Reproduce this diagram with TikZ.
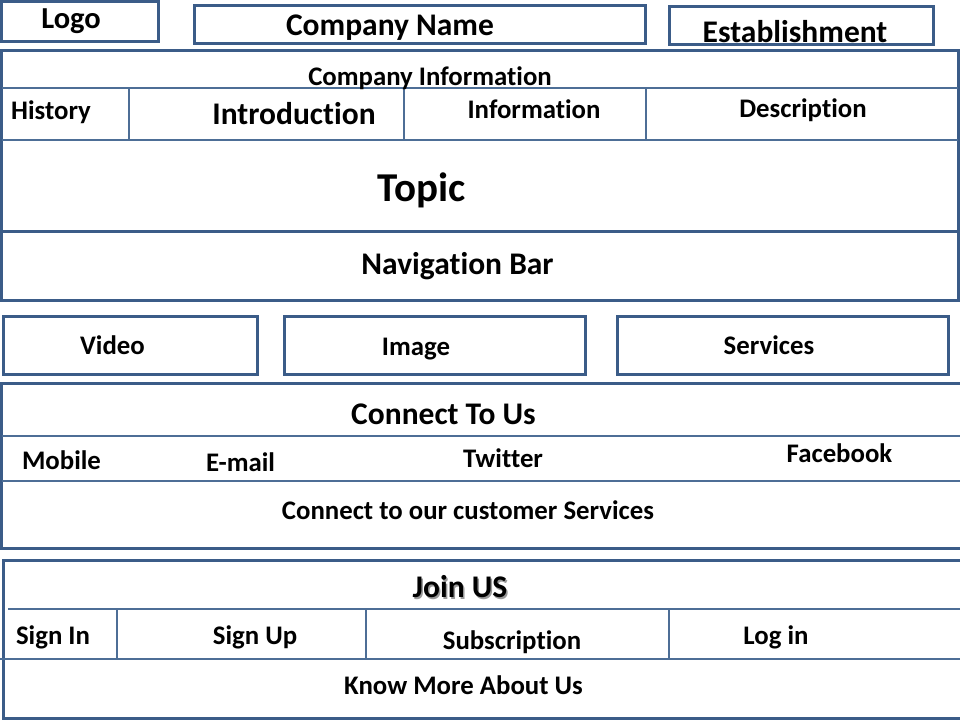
\documentclass[tikz,border=0pt]{standalone}
\usepackage{fontspec}
\setmainfont{Carlito}[Ligatures=NoCommon]
\usetikzlibrary{positioning}
\definecolor{frame}{HTML}{3B5C88}
\definecolor{rule}{HTML}{4D6E96}
\newcommand{\boxwidth}{3pt}
\newcommand{\txtsmall}{\fontsize{26.8}{30}\selectfont\bfseries}
\newcommand{\txtmid}{\fontsize{31.5}{35}\selectfont\bfseries}
\newcommand{\txtbig}{\fontsize{41}{46}\selectfont\bfseries}

\begin{document}
\begin{tikzpicture}[x=1pt,y=-1pt,
    frm/.style={draw=frame, line width=\boxwidth, rectangle, inner sep=0pt},
    sep/.style={draw=rule, line width=1.1pt},
    lbl/.style={inner sep=0pt}]
        \useasboundingbox (0,0) rectangle (960,720);
          % top row
        \node (logo) at (80,21.5) [frm, minimum width=157pt, minimum height=40pt] {};
        \node (cname) at (419.75,24.5) [frm, minimum width=450.5pt, minimum height=38pt] {};
        \node (estab) at (801.5,25.5) [frm, minimum width=264pt, minimum height=38pt] {};
        \node (tlogo) at (71,21) [lbl] {\fontsize{30.5}{34}\selectfont\bfseries Logo};
        \node (tcname) at (390,27.5) [lbl] {\txtmid Company Name};
        \node (testab) at (795,31.5) [lbl] {\txtmid Establishment};

          % company information
        \node (info) at (479.75,140.5) [frm, minimum width=956.5pt, minimum height=181pt] {};
        \draw[sep] (1.5,88) -- (958,88) (1.5,140) -- (958,140)
        (129,88) -- (129,140) (404,88) -- (404,140) (646,88) -- (646,140);
        \node (tinfo) at (430,78.5) [lbl] {\txtsmall Company Information};
        \node (thist) at (51,112) [lbl] {\txtsmall History};
        \node (tintro) at (294,113.5) [lbl] {\txtmid Introduction};
        \node (tinfor) at (534,109) [lbl] {\txtsmall Information};
        \node (tdesc) at (803,110.5) [lbl] {\txtsmall Description};
        \node (ttopic) at (422,190.5) [lbl] {\txtbig Topic};

          % navigation
        \node (nav) at (479.75,265.5) [frm, minimum width=956.5pt, minimum height=69pt] {};
        \node (tnav) at (457.5,266.5) [lbl] {\txtmid Navigation Bar};

          % media row
        \node (video) at (130,345) [frm, minimum width=254pt, minimum height=58pt] {};
        \node (image) at (435,345) [frm, minimum width=301pt, minimum height=58pt] {};
        \node (serv) at (783,345) [frm, minimum width=331pt, minimum height=58pt] {};
        \node (tvideo) at (112.5,345) [lbl] {\txtsmall Video};
        \node (timage) at (416,349) [lbl] {\txtsmall Image};
        \node (tserv) at (769,345) [lbl] {\txtsmall Services};

          % connect to us
        \node (conn) at (483.25,465.75) [frm, minimum width=963.5pt, minimum height=165.5pt] {};
        \draw[sep] (1.5,436) -- (960,436) (1.5,481) -- (960,481);
        \node (tconn) at (443.5,414) [lbl] {\txtmid Connect To Us};
        \node (tmob) at (61.5,460.5) [lbl] {\txtsmall Mobile};
        \node (tmail) at (240.5,462.5) [lbl] {\txtsmall E-mail};
        \node (ttwit) at (503,458) [lbl] {\txtsmall Twitter};
        \node (tface) at (839.5,453.5) [lbl] {\txtsmall Facebook};
        \node (tcust) at (468,510.5) [lbl] {\txtsmall Connect to our customer Services};

          % join us
        \node (join) at (484,639) [frm, minimum width=962pt, minimum height=158pt] {};
        \draw[sep] (8,609) -- (960,609) (0,659) -- (960,659)
        (117,609) -- (117,659) (366,609) -- (366,659) (669,609) -- (669,659);
        \node (tjoinsh) at (461.5,588.5) [lbl, text=black!40] {\txtmid Join US};
        \node (tjoin) at (460,587) [lbl] {\txtmid Join US};
        \node (tsignin) at (53,637) [lbl] {\txtsmall Sign In};
        \node (tsignup) at (255,637) [lbl] {\txtsmall Sign Up};
        \node (tsubs) at (512,642) [lbl] {\txtsmall Subscription};
        \node (tlogin) at (776,637) [lbl] {\txtsmall Log in};
        \node (tknow) at (463.5,685) [lbl] {\txtsmall Know More About Us};
        \end{tikzpicture}
\end{document}
